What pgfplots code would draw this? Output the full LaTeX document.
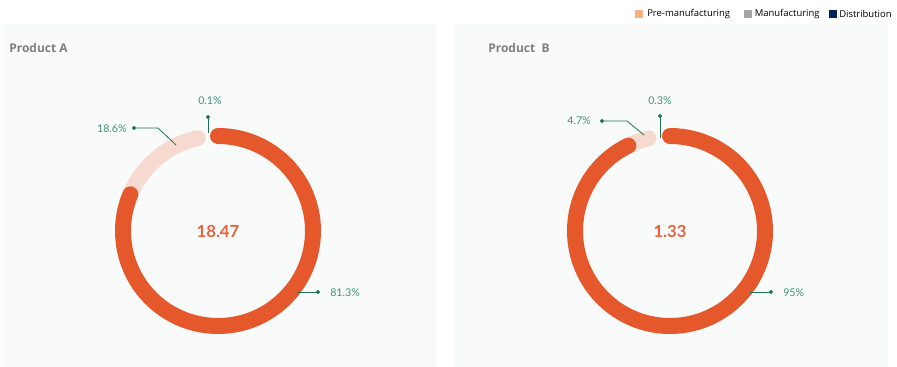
\documentclass[border=0pt]{standalone}
\usepackage{pgfplots}
\pgfplotsset{compat=1.18}
\usepackage{pgfplotstable}
\usepackage{fontspec}
\setmainfont{Open Sans}
\newfontfamily\donutfont{Lato}
\definecolor{panelbg}{HTML}{F9FAFA}
\definecolor{ringorange}{HTML}{E5582B}
\definecolor{ringpale}{HTML}{F6DAD0}
\definecolor{lbltext}{HTML}{3F9574}
\definecolor{lblline}{HTML}{1F7352}
\definecolor{centernum}{HTML}{E8613A}
\definecolor{titlegray}{HTML}{7F7F7F}
\definecolor{legpeach}{HTML}{F4B183}
\definecolor{leggray}{HTML}{A5A5A5}
\definecolor{legnavy}{HTML}{002060}

% segment shares in percent
\pgfplotstableread{
segment value
s1 81.3
s2 18.6
s3 0.1
}\tableA
\pgfplotstableread{
segment value
s1 95
s2 4.7
s3 0.3
}\tableB

\pgfplotstablegetelem{0}{value}\of\tableA \let\aOne\pgfplotsretval
\pgfplotstablegetelem{1}{value}\of\tableA \let\aTwo\pgfplotsretval
\pgfplotstablegetelem{2}{value}\of\tableA \let\aThree\pgfplotsretval
\pgfplotstablegetelem{0}{value}\of\tableB \let\bOne\pgfplotsretval
\pgfplotstablegetelem{1}{value}\of\tableB \let\bTwo\pgfplotsretval
\pgfplotstablegetelem{2}{value}\of\tableB \let\bThree\pgfplotsretval

% angles (clockwise from 12 o'clock); small cosmetic gaps as in the original
\pgfmathsetmacro\aOrEnd{90-3.6*\aOne}
\pgfmathsetmacro\aPaEnd{90-3.6*(\aOne+\aTwo)+12}
\pgfmathsetmacro\bOrEnd{90-3.6*\bOne+8}
\pgfmathsetmacro\bPaEnd{90-3.6*(\bOne+\bTwo)+12}

\pgfplotsset{
  donut/.style={
    at={#1}, anchor=origin,
    scale only axis, width=180pt, height=180pt,
    xmin=-120, xmax=120, ymin=-120, ymax=120,
    hide axis, clip=false,
  },
  ring/.style={draw=#1, line width=12pt, line cap=round, line join=round, samples=140, mark=none},
  leader/.style={draw=lblline, line width=0.6pt, mark=none},
  leaderdot/.style={only marks, mark=*, mark size=1.3pt, color=lblline},
}
\tikzset{
  pct/.style={text=lbltext, font=\donutfont\fontsize{8}{9}\selectfont, inner sep=0pt},
  centerval/.style={text=centernum, font=\donutfont\bfseries\fontsize{12.5}{14}\selectfont, inner sep=0pt},
}

\begin{document}
\begin{tikzpicture}
\begin{scope}[x=0.75pt, y=-0.75pt]
  \fill[white] (0,0) rectangle (897,367);
  \fill[panelbg] (1,24) rectangle (436,367);
  \fill[panelbg] (453,24) rectangle (888,367);
  \node[anchor=west, inner sep=0pt, text=titlegray, font=\bfseries\fontsize{9}{11}\selectfont] at (9,48) {Product A};
  \node[anchor=west, inner sep=0pt, text=titlegray, font=\bfseries\fontsize{9}{11}\selectfont] at (488,48) {Product\ \ B};
  % legend
  \fill[legpeach] (635,10) rectangle (643,18);
  \node[anchor=west, inner sep=0pt, font=\fontsize{7.1}{9}\selectfont] at (647,14) {Pre-manufacturing};
  \fill[leggray] (744,10) rectangle (752,18);
  \node[anchor=west, inner sep=0pt, font=\fontsize{7.1}{9}\selectfont] at (754.5,14) {Manufacturing};
  \fill[legnavy] (829,10) rectangle (837,18);
  \node[anchor=west, inner sep=0pt, font=\fontsize{7.1}{9}\selectfont] at (839,14) {Distribution};
\end{scope}

% ---------- Product A ----------
\begin{axis}[donut={(163.5pt,-173.25pt)}]
  \addplot[ring=ringpale, domain=\aPaEnd:\aOrEnd] ({95*cos(x)},{95*sin(x)});
  \addplot[ring=ringorange, domain=\aOrEnd:90] ({95*cos(x)},{95*sin(x)});
  % leaders
  \addplot[leader] coordinates {(-10,98) (-10,114)};
  \addplot[leaderdot] coordinates {(-10,114)};
  \addplot[leader] coordinates {(-42,86) (-60,103) (-84,103)};
  \addplot[leaderdot] coordinates {(-84,103)};
  \addplot[leader] coordinates {(79,-61) (100,-61)};
  \addplot[leaderdot] coordinates {(100,-61)};
  \node[pct, anchor=center] at (axis cs:-8,130) {\aThree\%};
  \node[pct, anchor=east] at (axis cs:-91,102) {\aTwo\%};
  \node[pct, anchor=west] at (axis cs:112,-62) {\aOne\%};
  \node[centerval] at (axis cs:0,0) {18.47};
\end{axis}

% ---------- Product B ----------
\begin{axis}[donut={(502.5pt,-173.25pt)}]
  \addplot[ring=ringpale, domain=\bPaEnd:\bOrEnd] ({95*cos(x)},{95*sin(x)});
  \addplot[ring=ringorange, domain=\bOrEnd:90] ({95*cos(x)},{95*sin(x)});
  \addplot[leader] coordinates {(-10,93) (-10,115)};
  \addplot[leaderdot] coordinates {(-10,115)};
  \addplot[leader] coordinates {(-26,96) (-43,110) (-68,110)};
  \addplot[leaderdot] coordinates {(-68,110)};
  \addplot[leader] coordinates {(80,-61) (101,-61)};
  \addplot[leaderdot] coordinates {(101,-61)};
  \node[pct, anchor=center] at (axis cs:-10,130) {\bThree\%};
  \node[pct, anchor=east] at (axis cs:-79,110) {\bTwo\%};
  \node[pct, anchor=west] at (axis cs:113,-62) {\bOne\%};
  \node[centerval] at (axis cs:0,0) {1.33};
\end{axis}
\end{tikzpicture}
\end{document}
